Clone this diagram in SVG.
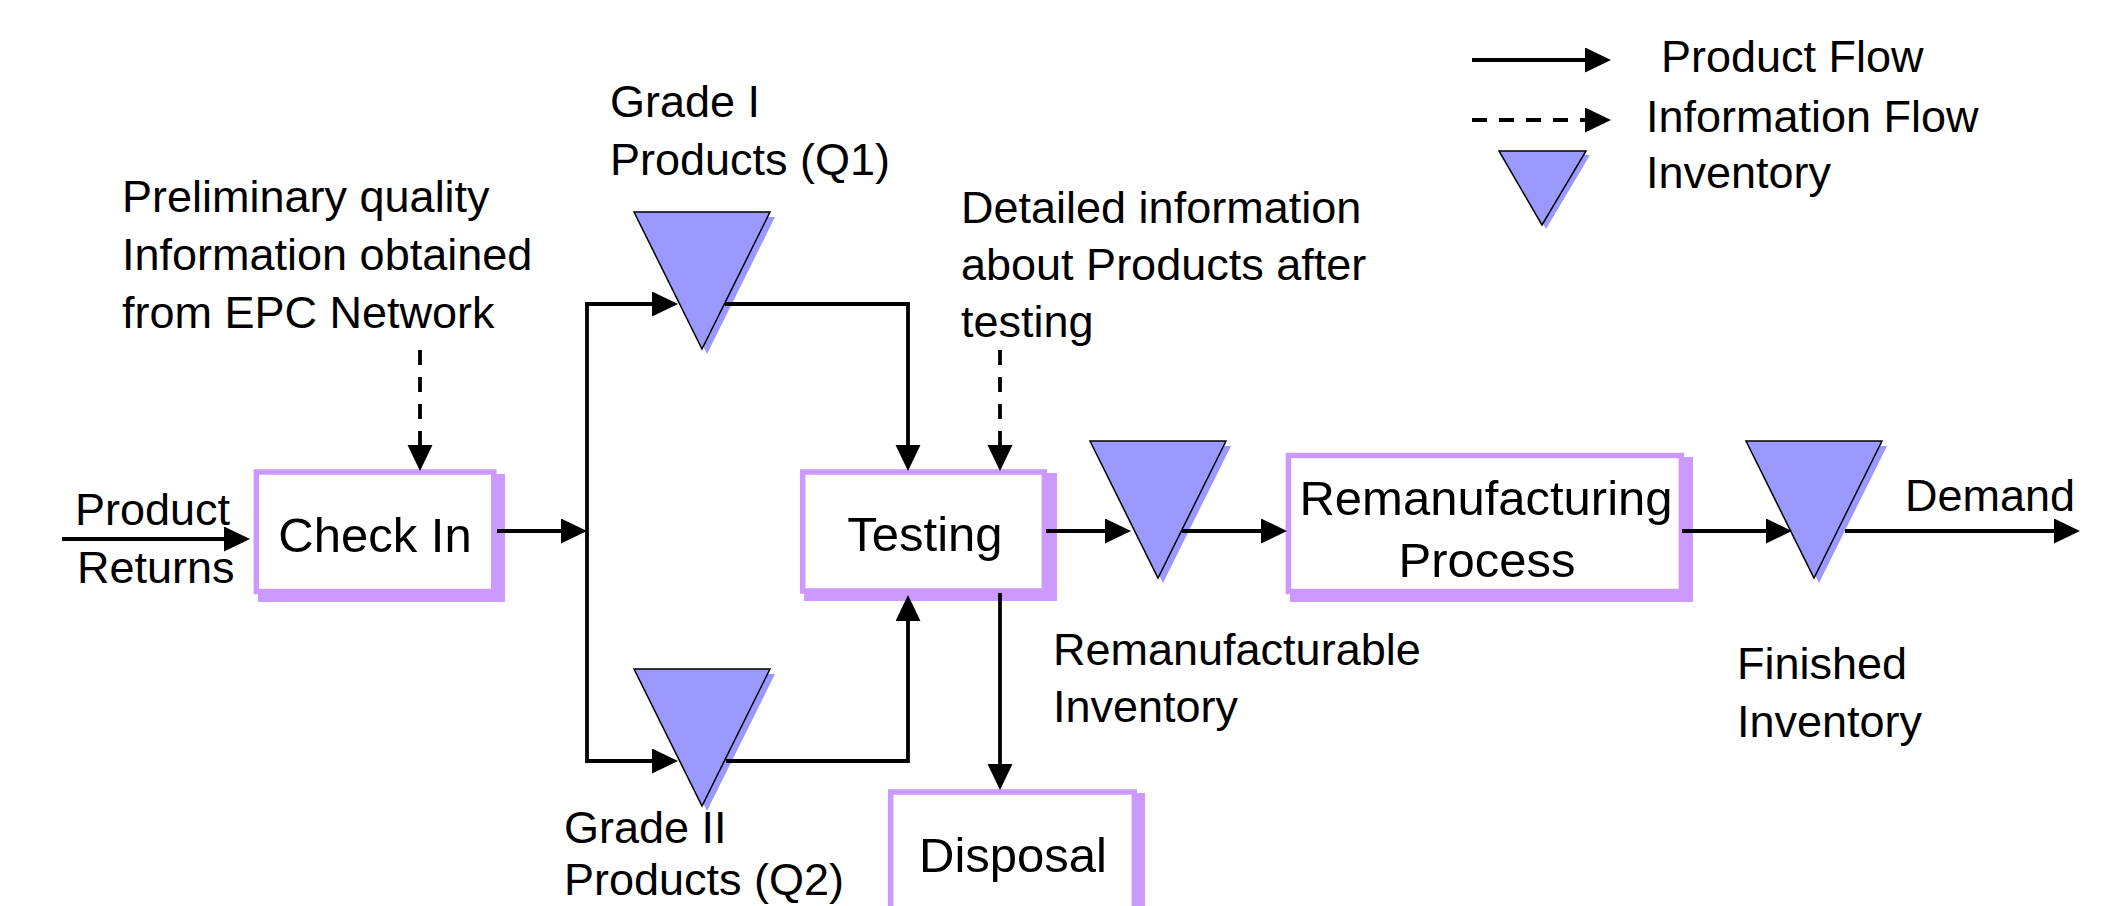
<svg xmlns="http://www.w3.org/2000/svg" width="2114" height="906" viewBox="0 0 2114 906">
  <defs>
    <style>
      .lbl { font-family: "Liberation Sans", Arial, sans-serif; font-size: 45px; fill: #000; }
      .box-lbl { font-family: "Liberation Sans", Arial, sans-serif; font-size: 49px; fill: #000; text-anchor: middle; }
      .box { fill: #fff; stroke: #CC99FF; stroke-width: 5.5; }
      .box-shadow { fill: #CC99FF; }
      .inv { fill: #9999FF; stroke: #000; stroke-width: 1.5; stroke-linejoin: miter; }
      .inv-shadow { fill: #9999FF; }
      .flow { fill: none; stroke: #000; stroke-width: 3.8; marker-end: url(#arrow); }
      .info { fill: none; stroke: #000; stroke-width: 3.8; stroke-dasharray: 15 12; marker-end: url(#arrow); }
      .plain { fill: none; stroke: #000; stroke-width: 3.8; }
    </style>
    <marker id="arrow" markerUnits="userSpaceOnUse" markerWidth="27" markerHeight="26" refX="21" refY="12.5" orient="auto">
      <path d="M0,0 L26,12.5 L0,25 Z" fill="#000"/>
    </marker>
    <!-- inventory triangle, drawn with its top-left corner at the origin -->
    <g id="inventory">
      <polygon class="inv-shadow" points="5,5 141,5 73,142"/>
      <polygon class="inv" points="0,0 136,0 68,137"/>
    </g>
  </defs>

  <rect width="2114" height="906" fill="#fff"/>

  <!-- legend -->
  <g id="legend">
    <path class="flow" d="M1472,60 H1606"/>
    <path class="info" d="M1472,120 H1606" stroke-dasharray="17 11"/>
    <polygon class="inv-shadow" points="1503,155 1590,155 1546,229"/>
    <polygon class="inv" points="1499,151 1586,151 1542,225"/>
    <text class="lbl" x="1661" y="72">Product Flow</text>
    <text class="lbl" x="1646" y="132">Information Flow</text>
    <text class="lbl" x="1646" y="188">Inventory</text>
  </g>

  <!-- process boxes -->
  <g id="check-in">
    <rect class="box-shadow" x="258" y="474" width="247" height="128"/>
    <rect class="box" x="256.3" y="472" width="237.5" height="119.5"/>
    <text class="box-lbl" x="375" y="552">Check In</text>
  </g>

  <g id="testing">
    <rect class="box-shadow" x="804" y="473" width="253" height="128"/>
    <rect class="box" x="802.7" y="472" width="241.6" height="119"/>
    <text class="box-lbl" x="925" y="551">Testing</text>
  </g>

  <g id="remanufacturing">
    <rect class="box-shadow" x="1290" y="457" width="403" height="145"/>
    <rect class="box" x="1288.4" y="455.5" width="393" height="136"/>
    <text class="box-lbl" x="1486" y="515">Remanufacturing</text>
    <text class="box-lbl" x="1487" y="577">Process</text>
  </g>

  <g id="disposal">
    <rect class="box-shadow" x="892" y="793" width="253" height="160"/>
    <rect class="box" x="890.7" y="792" width="243.6" height="150"/>
    <text class="box-lbl" x="1013" y="872">Disposal</text>
  </g>

  <!-- inventories -->
  <g id="grade1-inventory">
    <use href="#inventory" x="634" y="212"/>
    <text class="lbl" x="610" y="117">Grade I</text>
    <text class="lbl" x="610" y="175">Products (Q1)</text>
  </g>

  <g id="grade2-inventory">
    <use href="#inventory" x="634" y="669"/>
    <text class="lbl" x="564" y="843">Grade II</text>
    <text class="lbl" x="564" y="895">Products (Q2)</text>
  </g>

  <g id="remanufacturable-inventory">
    <use href="#inventory" x="1090" y="441"/>
    <text class="lbl" x="1053" y="665">Remanufacturable</text>
    <text class="lbl" x="1053" y="722">Inventory</text>
  </g>

  <g id="finished-inventory">
    <use href="#inventory" x="1746" y="441"/>
    <text class="lbl" x="1737" y="679">Finished</text>
    <text class="lbl" x="1737" y="737">Inventory</text>
  </g>

  <!-- free-standing labels -->
  <g id="returns-label">
    <text class="lbl" x="75" y="525">Product</text>
    <text class="lbl" x="77" y="583">Returns</text>
  </g>
  <g id="epc-note">
    <text class="lbl" x="122" y="212">Preliminary quality</text>
    <text class="lbl" x="122" y="270">Information obtained</text>
    <text class="lbl" x="122" y="328">from EPC Network</text>
  </g>
  <g id="testing-note">
    <text class="lbl" x="961" y="223">Detailed information</text>
    <text class="lbl" x="961" y="280">about Products after</text>
    <text class="lbl" x="961" y="337">testing</text>
  </g>
  <g id="demand-label">
    <text class="lbl" x="1905" y="511">Demand</text>
  </g>

  <!-- connectors -->
  <g id="connectors">
    <path class="flow" d="M62,539 H245"/>
    <path class="flow" d="M497,531 H582"/>
    <path class="plain" d="M587,302.1 V762.9"/>
    <path class="flow" d="M585.1,304 H673"/>
    <path class="flow" d="M585.1,761 H673"/>
    <path class="flow" d="M725,304 H908 V466"/>
    <path class="flow" d="M726,761 H908 V600"/>
    <path class="flow" d="M1046,531 H1126"/>
    <path class="flow" d="M1182,531 H1282"/>
    <path class="flow" d="M1682,531 H1787"/>
    <path class="flow" d="M1845,531 H2075"/>
    <path class="flow" d="M1000,593 V785"/>
    <path class="info" d="M420,350 V466"/>
    <path class="info" d="M1000,350 V466"/>
  </g>
</svg>
